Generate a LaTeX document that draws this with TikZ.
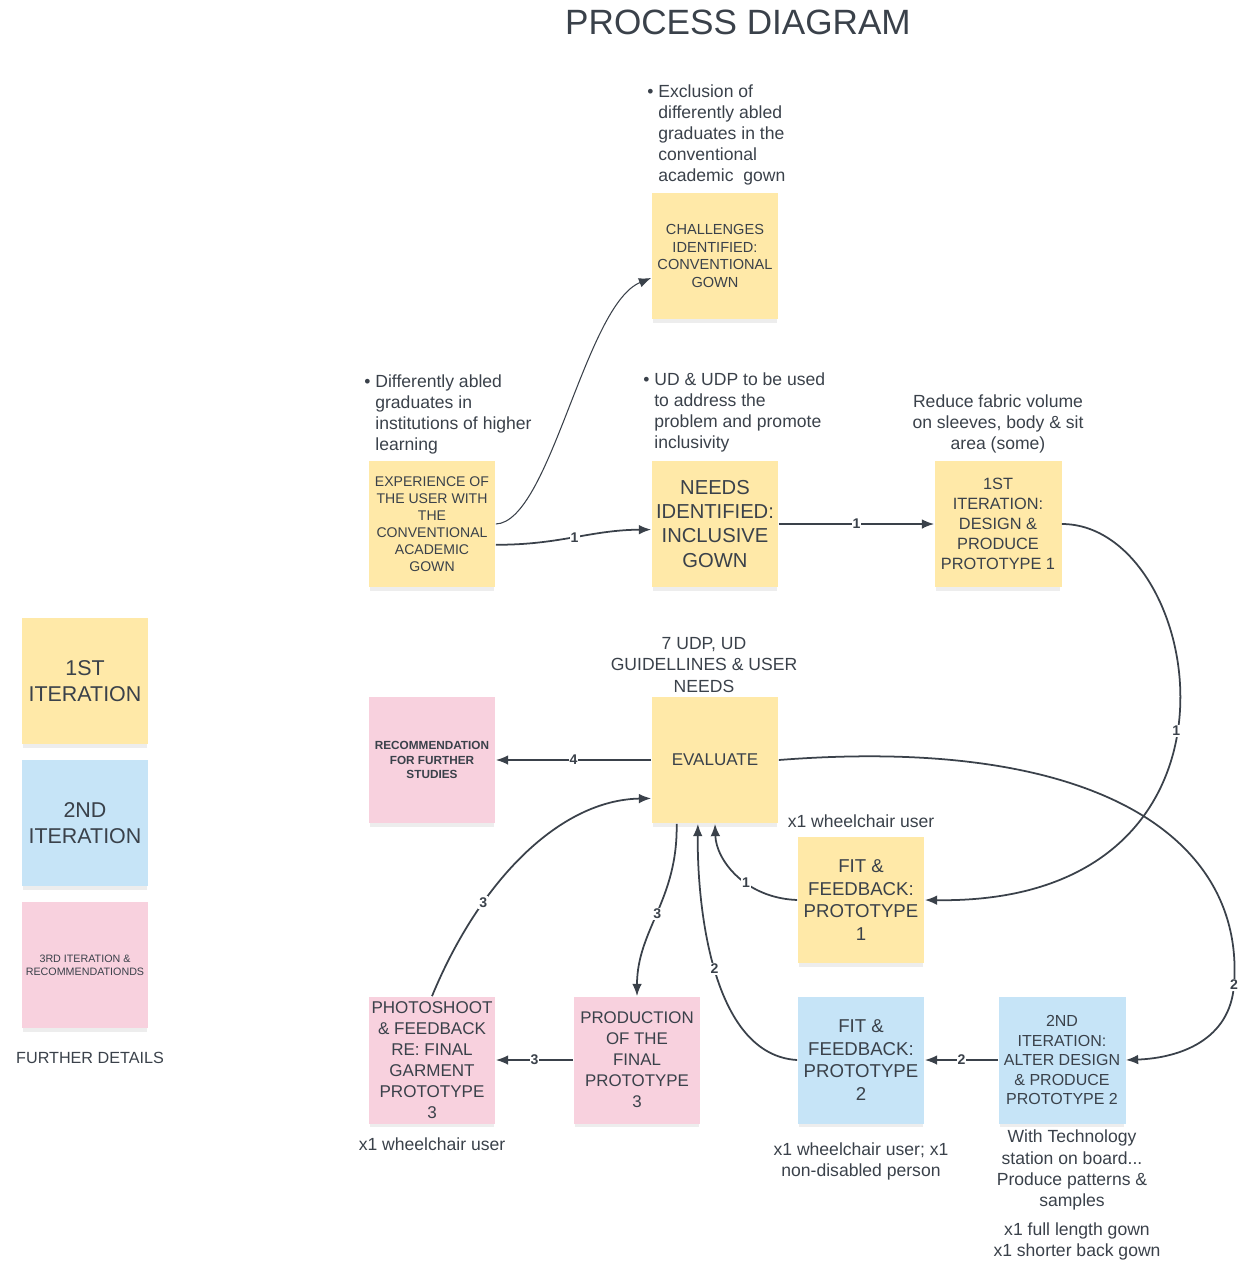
\documentclass[tikz,border=0pt]{standalone}
\usepackage{fontspec}
\setmainfont{Liberation Sans}
\usetikzlibrary{arrows.meta, shadows}

\definecolor{ink}{HTML}{3A414A}
\definecolor{stickyyellow}{HTML}{FFE9A8}
\definecolor{stickyblue}{HTML}{C6E4F7}
\definecolor{stickypink}{HTML}{F8D1DE}

\tikzset{
  sticky/.style={minimum width=2.54cm, minimum height=2.54cm, inner sep=1pt, align=center, text=ink,
    drop shadow={shadow xshift=0mm, shadow yshift=-1.1mm, shadow scale=0.97, opacity=0.14}},
  yellownote/.style={sticky, fill=stickyyellow},
  bluenote/.style={sticky, fill=stickyblue},
  pinknote/.style={sticky, fill=stickypink},
  link/.style={draw=ink, line width=1pt, -{Latex[length=7pt,width=5.5pt]}},
  num/.style={fill=white, inner sep=0.6pt, text=ink, font=\bfseries\fontsize{8}{8}\selectfont},
  annot/.style={inner sep=0pt, text=ink, font=\fontsize{10}{12}\selectfont}
}

\begin{document}
\begin{tikzpicture}[x=0.02cm, y=-0.02cm]
    \useasboundingbox (0,0) rectangle (1245,1261);

    % Titel
    \node[text=ink, font=\fontsize{20}{24}\selectfont] (title) at (738,22) {PROCESS DIAGRAM};

    % Legende links
    \node[yellownote, font=\fontsize{12.2}{14.8}\selectfont] (leg1) at (85,681) {1ST\\ITERATION};
    \node[bluenote, font=\fontsize{12.2}{14.8}\selectfont] (leg2) at (85,823) {2ND\\ITERATION};
    \node[pinknote, font=\fontsize{6.1}{7.4}\selectfont] (leg3) at (85,965) {3RD ITERATION \&\\RECOMMENDATIONDS};
    \node[text=ink, font=\fontsize{9.2}{11}\selectfont] (further) at (90,1058) {FURTHER DETAILS};

    % Notizzettel
    \node[yellownote, font=\fontsize{8.3}{10.2}\selectfont] (chall) at (715,256) {CHALLENGES\\IDENTIFIED:\\CONVENTIONAL\\GOWN};
    \node[yellownote, font=\fontsize{8}{9.7}\selectfont] (exper) at (432,524) {EXPERIENCE OF\\THE USER WITH\\THE\\CONVENTIONAL\\ACADEMIC\\GOWN};
    \node[yellownote, font=\fontsize{11.5}{13.7}\selectfont] (needs) at (715,524) {NEEDS\\IDENTIFIED:\\INCLUSIVE\\GOWN};
    \node[yellownote, font=\fontsize{9.3}{11.4}\selectfont] (iter1) at (998,524) {1ST\\ITERATION:\\DESIGN \&\\PRODUCE\\PROTOTYPE 1};
    \node[pinknote, font=\bfseries\fontsize{6.7}{8.2}\selectfont] (recom) at (432,760) {RECOMMENDATION\\FOR FURTHER\\STUDIES};
    \node[yellownote, font=\fontsize{9.7}{12}\selectfont] (eval) at (715,760) {EVALUATE};
    \node[yellownote, font=\fontsize{10.6}{13}\selectfont] (fit1) at (861,900) {FIT \&\\FEEDBACK:\\PROTOTYPE\\1};
    \node[pinknote, font=\fontsize{9.7}{12}\selectfont] (photo) at (432,1060) {PHOTOSHOOT\\\& FEEDBACK\\RE: FINAL\\GARMENT\\PROTOTYPE\\3};
    \node[pinknote, font=\fontsize{9.6}{12}\selectfont] (prod) at (637,1060) {PRODUCTION\\OF THE\\FINAL\\PROTOTYPE\\3};
    \node[bluenote, font=\fontsize{10.6}{13}\selectfont] (fit2) at (861,1060) {FIT \&\\FEEDBACK:\\PROTOTYPE\\2};
    \node[bluenote, font=\fontsize{9.1}{11.1}\selectfont] (iter2) at (1062,1060) {2ND\\ITERATION:\\ALTER DESIGN\\\& PRODUCE\\PROTOTYPE 2};

    % Anmerkungen
    \node[annot, anchor=north west, align=left] (exclnote) at (658,84) {\llap{• }Exclusion of\\differently abled\\graduates in the\\conventional\\academic\ \ gown};
    \node[annot, anchor=north west, align=left] (diffnote) at (375,374) {\llap{• }Differently abled\\graduates in\\institutions of higher\\learning};
    \node[annot, anchor=north west, align=left] (udnote) at (654,372) {\llap{• }UD \& UDP to be used\\to address the\\problem and promote\\inclusivity};
    \node[annot, align=center] (reducenote) at (998,424) {Reduce fabric volume\\on sleeves, body \& sit\\area (some)};
    \node[annot, align=center] (udpnote) at (704,665) {7 UDP, UD\\GUIDELLINES \& USER\\NEEDS};
    \node[annot] (wheelone) at (861,821) {x1 wheelchair user};
    \node[annot] (wheelthree) at (432,1144) {x1 wheelchair user};
    \node[annot, align=center] (wheeltwo) at (861,1161) {x1 wheelchair user; x1\\non-disabled person};
    \node[annot, align=center] (technote) at (1072,1170) {With Technology\\station on board...\\Produce patterns \&\\samples};
    \node[annot, align=center] (gownnote) at (1077,1241) {x1 full length gown\\x1 shorter back gown};

    % Verbindungen
    \draw[draw=ink, line width=0.6pt, -{Latex[length=7pt,width=5.5pt]}] (exper.east) .. controls (550,522) and (585,305) .. (chall.199);
    \draw[link] (exper.-18) .. controls (560,545) and (590,530) .. node[num] {1} (needs.185);
    \draw[link] (needs) -- node[num] {1} (iter1);
    \draw[link] (iter1.east) .. controls (1205,524) and (1275,905) .. node[num, pos=0.53] {1} (fit1.east);
    \draw[link] (fit1.west) .. controls (745,898) and (716,860) .. node[num, pos=0.4] {1} (eval.south);
    \draw[link] (eval.east) .. controls (1100,735) and (1245,840) .. (1234,985) node[num] {2}
        .. controls (1230,1040) and (1180,1058) .. (iter2.east);
    \draw[link] (iter2) -- node[num] {2} (fit2);
    \draw[link] (fit2.west) .. controls (710,1055) and (697,900) .. node[num] {2} (eval.-105);
    \draw[link] (eval.-121) .. controls (678,900) and (637,930) .. node[num] {3} (prod.north);
    \draw[link] (prod) -- node[num] {3} (photo);
    \draw[link] (photo.north) .. controls (480,880) and (560,800) .. node[num, pos=0.3] {3} (eval.211);
    \draw[link] (eval) -- node[num] {4} (recom);
\end{tikzpicture}
\end{document}
